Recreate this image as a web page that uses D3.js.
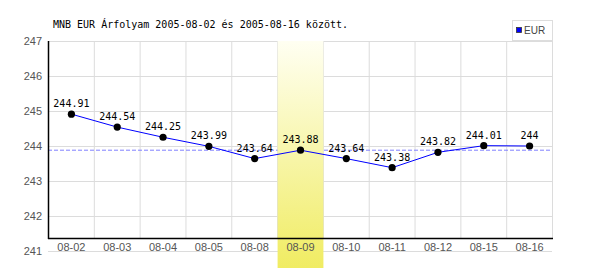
<!DOCTYPE html>
<html>
<head>
<meta charset="utf-8">
<script src="https://cdn.jsdelivr.net/npm/d3@7"></script>
<style>
body { margin:0; background:#fff; }
.mono { font-family:"DejaVu Sans Mono", monospace; font-size:10px; }
.tick { font-family:"Liberation Sans", Arial, sans-serif; font-size:11px; fill:#555; }
</style>
</head>
<body>
<svg id="myGraph" width="600" height="270"></svg>
<script>
var title = "MNB EUR Árfolyam 2005-08-02 és 2005-08-16 között.";
var days = ["08-02","08-03","08-04","08-05","08-08","08-09","08-10","08-11","08-12","08-15","08-16"];
var rates = [244.91, 244.54, 244.25, 243.99, 243.64, 243.88, 243.64, 243.38, 243.82, 244.01, 244];
var yTicks = [241, 242, 243, 244, 245, 246, 247];
var highlightDay = "08-09";
var refRate = 243.88;	// szaggatott vonal
var seriesName = "EUR";

var plotLeft = 48, plotRight = 552, plotTop = 41, plotBottom = 251;
var axisY = 238;	// fekete x tengely vonala

var svg = d3.select("#myGraph");

var x = d3.scaleBand().domain(days).range([plotLeft, plotRight]);
var y = d3.scaleLinear().domain([241, 247]).range([plotBottom, plotTop]);

// rács
svg.append("g").selectAll("line").data(yTicks).join("line")
	.attr("x1", plotLeft).attr("x2", plotRight)
	.attr("y1", function(d){ return y(d)+0.5; }).attr("y2", function(d){ return y(d)+0.5; })
	.attr("stroke", "#dcdcdc");

svg.append("g").selectAll("line").data(days.concat(["end"])).join("line")
	.attr("x1", function(d){ return (d=="end" ? plotRight : x(d)) + 0.5; })
	.attr("x2", function(d){ return (d=="end" ? plotRight : x(d)) + 0.5; })
	.attr("y1", plotTop).attr("y2", axisY)
	.attr("stroke", "#dcdcdc");

// szaggatott referencia vonal
svg.append("line")
	.attr("x1", plotLeft).attr("x2", plotRight)
	.attr("y1", y(refRate)).attr("y2", y(refRate))
	.attr("stroke", "#8080ff").attr("stroke-dasharray", "4,2");

// kiemelt nap
var grad = svg.append("defs").append("linearGradient")
	.attr("id", "hl").attr("x1", 0).attr("y1", 0).attr("x2", 0).attr("y2", 1);
grad.append("stop").attr("offset", "0%").attr("stop-color", "#fffff2");
grad.append("stop").attr("offset", "100%").attr("stop-color", "#f0ec62");

svg.append("rect")
	.attr("x", x(highlightDay)+0.5).attr("y", plotTop)
	.attr("width", x.bandwidth()).attr("height", 268 - plotTop)
	.attr("fill", "url(#hl)");

// tengelyek
svg.append("line").attr("x1", plotLeft+0.5).attr("x2", plotLeft+0.5)
	.attr("y1", plotTop).attr("y2", axisY+1).attr("stroke", "#000").attr("stroke-width", 1.5);
svg.append("line").attr("x1", plotLeft).attr("x2", plotRight+1)
	.attr("y1", axisY+0.5).attr("y2", axisY+0.5).attr("stroke", "#000").attr("stroke-width", 1.5);

svg.append("g").selectAll("text").data(yTicks).join("text")
	.attr("class", "tick")
	.attr("x", 42).attr("y", function(d){ return y(d) + 4; })
	.attr("text-anchor", "end")
	.text(function(d){ return d; });

svg.append("g").selectAll("text").data(days).join("text")
	.attr("class", "tick")
	.attr("x", function(d){ return x(d) + x.bandwidth()/2 + 0.5; })
	.attr("y", 251)
	.attr("text-anchor", "middle")
	.text(function(d){ return d; });

// vonal
var cx = function(d,i){ return x(days[i]) + x.bandwidth()/2 + 0.5; };
var line = d3.line().x(cx).y(function(d){ return y(d); });
svg.append("path").attr("d", line(rates))
	.attr("fill", "none").attr("stroke", "#0000ff").attr("stroke-width", 1);

svg.append("g").selectAll("circle").data(rates).join("circle")
	.attr("cx", cx).attr("cy", function(d){ return y(d); })
	.attr("r", 3.6).attr("fill", "#000");

svg.append("g").selectAll("text").data(rates).join("text")
	.attr("class", "mono")
	.attr("x", cx).attr("y", function(d){ return y(d) - 7; })
	.attr("text-anchor", "middle").attr("fill", "#000")
	.text(function(d){ return String(d); });

// cím
svg.append("text").attr("class", "mono")
	.attr("x", 53).attr("y", 28).attr("fill", "#000").text(title);

// jelmagyarázat
var lg = svg.append("g");
lg.append("rect").attr("x", 512.5).attr("y", 20.5).attr("width", 40).attr("height", 20)
	.attr("fill", "#fff").attr("stroke", "#ddd");
lg.append("rect").attr("x", 516.5).attr("y", 27.5).attr("width", 5).attr("height", 5)
	.attr("fill", "#0000ff").attr("stroke", "#333").attr("stroke-width", 0.8);
lg.append("text").attr("x", 524).attr("y", 34)
	.attr("font-family", "Liberation Sans, Arial, sans-serif").attr("font-size", "10px")
	.attr("fill", "#444").text(seriesName);
</script>
</body>
</html>
